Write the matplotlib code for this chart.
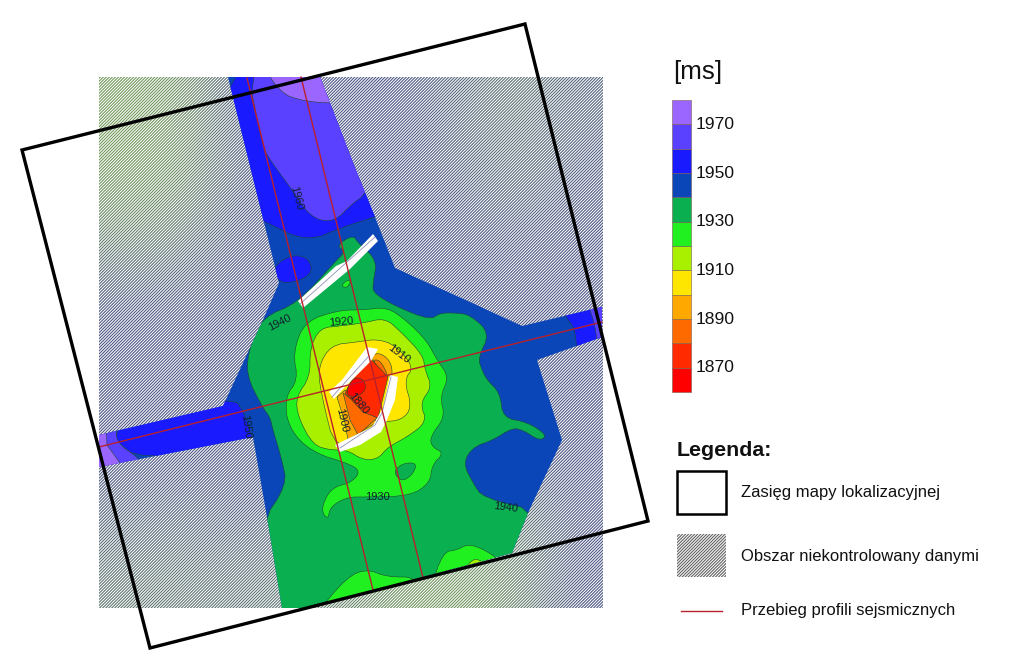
import numpy as np
import matplotlib.pyplot as plt
from matplotlib.colors import BoundaryNorm, ListedColormap
from matplotlib.patches import Polygon, Rectangle

plt.rcParams['font.family'] = ['Liberation Sans', 'DejaVu Sans']
plt.rcParams['hatch.linewidth'] = 0.75

# colour scale, 10 ms bins
levels = [1860, 1870, 1880, 1890, 1900, 1910, 1920, 1930, 1940, 1950, 1960, 1970, 1980]
colors = ['#ff0000', '#ff2a00', '#ff6a00', '#ffa800', '#ffe600', '#a8f000',
          '#20f020', '#0ab050', '#0a46b8', '#1a1aff', '#5a40ff', '#9a66ff']
tick_values = [1870, 1890, 1910, 1930, 1950, 1970]

# map outlines in image pixels
data_area = [(228, 77), (320, 77), (355, 168), (375, 217), (395, 268), (470, 302), (522, 326),
             (602, 307), (602, 337), (537, 360), (562, 440), (528, 513), (512, 553), (325, 603),
             (310, 608), (282, 608), (268, 523), (253, 437), (99, 467), (99, 435), (223, 406),
             (235, 380), (263, 320), (279, 283)]
north_1950 = [(215, 60), (335, 60), (370, 168), (395, 210), (375, 217), (343, 227), (307, 242),
              (265, 222), (250, 215)]
north_1960 = [(245, 60), (335, 60), (375, 168), (365, 195), (353, 203), (333, 223), (310, 217),
              (290, 187), (270, 160), (263, 147)]
north_1970 = [(260, 60), (335, 60), (340, 103), (328, 103), (303, 101), (280, 93)]
blob_1950 = [(272, 268), (290, 255), (307, 257), (313, 270), (303, 280), (280, 284)]
west_1950 = [(117, 433), (120, 410), (233, 398), (243, 410), (252, 437), (256, 450), (140, 459), (116, 442)]
west_1960 = [(90, 425), (117, 425), (116, 442), (140, 459), (150, 475), (90, 475)]
west_1970 = [(90, 425), (106, 425), (107, 445), (120, 463), (125, 475), (90, 475)]
east_1950 = [(565, 317), (560, 295), (615, 295), (615, 355), (577, 355), (575, 328)]
east_1960 = [(590, 310), (585, 295), (615, 295), (615, 350), (598, 350), (595, 325)]
main_1930 = [(353, 235), (337, 245), (345, 252), (335, 262), (298, 303), (263, 317), (250, 345),
             (246, 375), (263, 408), (270, 417), (273, 430), (282, 460), (287, 485), (260, 525),
             (265, 630), (530, 630), (545, 513), (483, 498), (473, 483),
             (463, 463), (473, 447), (493, 440), (512, 428), (523, 430), (540, 441), (547, 435),
             (527, 422), (503, 418), (500, 393), (487, 380), (482, 370), (478, 358), (490, 333),
             (470, 315), (457, 313), (440, 313), (430, 320), (397, 307), (373, 293), (373, 283),
             (377, 260), (358, 243)]
main_1920 = [(363, 310), (387, 307), (407, 321), (427, 341), (437, 360), (449, 377), (440, 397),
             (445, 417), (430, 437), (432, 447), (444, 453), (432, 465), (430, 483), (410, 496),
             (367, 497), (347, 497), (330, 507), (328, 520), (321, 510), (328, 493), (337, 486),
             (350, 483), (360, 473), (353, 465), (311, 452), (288, 427), (285, 397), (298, 380),
             (293, 352), (305, 321), (340, 310)]
hole_1930 = [(393, 472), (403, 463), (417, 463), (413, 474), (402, 482)]
south_1920_a = [(315, 615), (347, 577), (367, 569), (387, 577), (417, 577), (417, 600), (373, 610)]
south_1920_b = [(430, 590), (443, 552), (457, 550), (468, 544), (483, 549), (500, 560), (500, 570)]
south_1910 = [(463, 572), (473, 558), (484, 562), (485, 570)]
north_1920 = [(341, 286), (347, 280), (351, 281), (347, 288)]
main_1910 = [(310, 348), (320, 328), (340, 326), (363, 323), (385, 318), (400, 331), (423, 355),
             (425, 370), (432, 387), (420, 403), (427, 422), (407, 437), (388, 447), (378, 459),
             (363, 460), (347, 450), (330, 450), (313, 445), (298, 417), (296, 397), (310, 377)]
main_1900 = [(318, 367), (331, 345), (357, 342), (377, 339), (395, 345), (414, 367), (404, 380),
             (412, 407), (402, 420), (382, 422), (377, 429), (336, 454), (321, 393)]
low_1890 = [(337, 397), (345, 390), (377, 422), (348, 440), (345, 423)]
top_1890 = [(370, 358), (378, 352), (390, 360), (393, 375), (387, 377)]
low_1880 = [(343, 393), (377, 418), (358, 435), (350, 420)]
top_1880 = [(372, 360), (380, 360), (388, 375), (385, 377)]
core_1870 = [(370, 358), (388, 377), (378, 418), (363, 412), (345, 393), (352, 380)]
core_1860 = [(352, 378), (362, 378), (367, 388), (358, 397), (345, 395)]

# (outline, value of its bin, rounded or not) in drawing order
zones = [(north_1950, 1950, True), (north_1960, 1960, True), (north_1970, 1970, True),
         (blob_1950, 1950, True), (west_1950, 1950, True), (west_1960, 1960, True),
         (west_1970, 1970, False), (east_1950, 1950, True), (east_1960, 1960, True),
         (main_1930, 1930, True), (main_1920, 1920, True), (hole_1930, 1930, True),
         (south_1920_a, 1920, True), (south_1920_b, 1920, True), (south_1910, 1910, True),
         (north_1920, 1920, True), (main_1910, 1910, True), (main_1900, 1900, True),
         (low_1890, 1890, False), (top_1890, 1890, True), (low_1880, 1880, False),
         (top_1880, 1880, True), (core_1870, 1870, False), (core_1860, 1860, True)]

fault_white = [
    [(298, 301), (336, 266), (347, 261), (373, 234), (378, 241), (350, 269), (303, 308)],
    [(329, 392), (342, 380), (367, 347), (378, 349), (371, 361), (343, 389), (334, 399)],
    [(390, 375), (398, 377), (395, 400), (387, 420), (381, 432), (360, 445), (340, 452),
     (335, 445), (372, 427), (383, 408)],
]
fault_lines = [
    [(300, 304), (375, 237)],
    [(332, 397), (368, 357)],
    [(391, 377), (382, 413), (375, 425), (340, 448)],
]
profiles = [[(247, 78), (373, 590)], [(301, 77), (423, 578)], [(99, 447), (602, 322)]]
frame = [(22, 150), (525, 24), (648, 521), (150, 648)]

# contour labels: text, x, y, rotation
contour_labels = [('1960', 296, 198, -75), ('1940', 280, 323, 27), ('1920', 341, 322, 5),
                  ('1910', 399, 354, -37), ('1880', 358, 404, -50), ('1900', 342, 420, -77),
                  ('1950', 246, 427, -82), ('1930', 377, 497, 0), ('1940', 506, 508, -7)]

# how green the background under the hatching is (rows top to bottom)
tint = np.array([[1.0, 0.9, 0.1, 0.0, 0.0, 0.0, 0.3, 0.5, 0.2],
                 [1.0, 0.9, 0.1, 0.0, 0.0, 0.0, 0.2, 0.4, 0.1],
                 [0.6, 0.5, 0.0, 0.0, 0.0, 0.0, 0.0, 0.1, 0.0],
                 [0.0, 0.0, 0.0, 0.0, 0.0, 0.0, 0.0, 0.0, 0.0],
                 [0.0, 0.0, 0.0, 0.0, 0.0, 0.0, 0.0, 0.0, 0.0],
                 [0.0, 0.0, 0.0, 0.0, 0.0, 0.0, 0.0, 0.0, 0.0],
                 [0.2, 0.2, 0.1, 0.1, 0.1, 0.1, 0.6, 0.5, 0.0],
                 [0.5, 0.5, 0.4, 0.5, 0.7, 1.0, 1.0, 0.7, 0.0]])

legend_labels = ['Zasięg mapy lokalizacyjnej', 'Obszar niekontrolowany danymi',
                 'Przebieg profili sejsmicznych']


def rounded(outline, passes=2):
    # corner cutting so the contours are not angular
    pts = np.array(outline, dtype=float)
    for _ in range(passes):
        nxt = np.roll(pts, -1, axis=0)
        pts = np.column_stack([0.75 * pts + 0.25 * nxt, 0.25 * pts + 0.75 * nxt]).reshape(-1, 2)
    return pts


fig = plt.figure(figsize=(10.24, 6.61), dpi=100)
ax = fig.add_axes([0, 0, 1, 1])

# hatched background, white stripes over a tinted field
tint_cmap = ListedColormap(np.linspace(np.array([0.30, 0.33, 0.52]), np.array([0.45, 0.60, 0.36]), 64))
ax.imshow(tint, extent=(99, 603, 608, 77), cmap=tint_cmap, vmin=0, vmax=1,
          interpolation='bicubic', aspect='auto', zorder=1)
ax.add_patch(Rectangle((99, 77), 504, 531, facecolor='none', edgecolor='white',
                       hatch='/' * 11, linewidth=0, zorder=2))

cmap = ListedColormap(colors)
norm = BoundaryNorm(levels, cmap.N)
area = Polygon(data_area, closed=True, facecolor=cmap(norm(1945)), edgecolor='none', zorder=3)
ax.add_patch(area)
for i, (outline, value, smooth) in enumerate(zones):
    pts = rounded(outline) if smooth else outline
    patch = Polygon(pts, closed=True, facecolor=cmap(norm(value + 5)), edgecolor='#1c4a30',
                    linewidth=0.4, zorder=3 + (i + 1) * 0.01)
    ax.add_patch(patch)
    patch.set_clip_path(area)

for outline in fault_white:
    ax.add_patch(Polygon(outline, closed=True, facecolor='white', edgecolor='none', zorder=4))
for line in fault_lines:
    xs, ys = zip(*line)
    ax.plot(xs, ys, color='#9090b8', linewidth=0.6, zorder=4.1)

for text, x, y, rot in contour_labels:
    ax.text(x, y, text, fontsize=8, rotation=rot, ha='center', va='center',
            color='#102030', zorder=5)

for line in profiles:
    xs, ys = zip(*line)
    ax.plot(xs, ys, color='#b8202c', linewidth=1.0, zorder=6)

ax.add_patch(Polygon(frame, closed=True, facecolor='none', edgecolor='black',
                     linewidth=2.4, joinstyle='miter', zorder=7))

# colour bar
bar_left, bar_w, bar_bottom = 672, 19, 392
bin_h = (392 - 100) / (len(levels) - 1)
for i, col in enumerate(colors):
    ax.add_patch(Rectangle((bar_left, bar_bottom - (i + 1) * bin_h), bar_w, bin_h,
                           facecolor=col, edgecolor='#7a5a50', linewidth=0.4))
for val in tick_values:
    ax.text(696, bar_bottom - (val - levels[0]) / 10 * bin_h, str(val), fontsize=12.6,
            ha='left', va='center', color='#111111')
ax.text(673, 72, '[ms]', fontsize=18.7, ha='left', va='center', color='#111111')

# legend
ax.text(677, 450, 'Legenda:', fontsize=15.4, fontweight='bold', ha='left', va='center', color='#111111')
ax.add_patch(Rectangle((677, 471), 49, 43, facecolor='white', edgecolor='black', linewidth=1.8))
ax.add_patch(Rectangle((677, 534), 49, 43, facecolor='#606060', edgecolor='white',
                       hatch='/' * 11, linewidth=0))
ax.plot([681, 722], [610.5, 610.5], color='#b8202c', linewidth=1.0)
for y, label in zip([492, 556, 611], legend_labels):
    ax.text(741, y, label, fontsize=12, ha='left', va='center', color='#111111')

ax.set_xlim(0, 1024)
ax.set_ylim(661, 0)
ax.axis('off')

fig.savefig('out.png', dpi=100)
